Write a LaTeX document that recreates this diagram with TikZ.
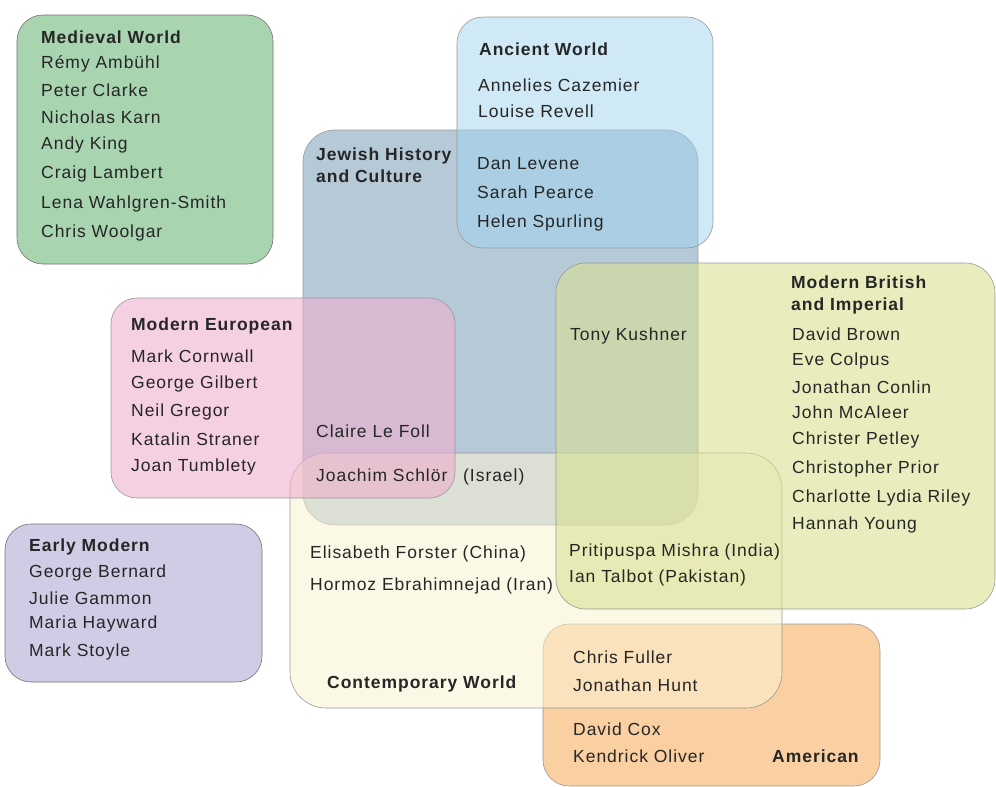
\documentclass[tikz,border=0pt]{standalone}
\usepackage{fontspec}
\setmainfont[LetterSpace=5.5]{Liberation Sans}
\begin{document}
\begin{tikzpicture}[x=1pt,y=-1pt,
  box/.style={draw=black!40, line width=0.6pt, rounded corners=26pt},
  nm/.style={anchor=base west, inner sep=0pt, font=\fontsize{17.5}{19}\selectfont, text=black!85},
  ttl/.style={nm, font=\fontsize{17.5}{22}\selectfont\bfseries, align=left}]
\definecolor{medc}{RGB}{168,212,176}
\definecolor{earc}{RGB}{208,204,230}
\definecolor{jewc}{RGB}{182,201,215}
\definecolor{ancc}{RGB}{159,211,239}
\definecolor{amec}{RGB}{250,208,162}
\definecolor{conc}{RGB}{250,242,210}
\definecolor{eurc}{RGB}{238,175,207}
\definecolor{bric}{RGB}{217,224,143}
\useasboundingbox (0,0) rectangle (996,787);
% boxes
\path[box, fill=medc, draw=black!55] (17,15) rectangle (273,264);
\path[box, fill=earc, draw=black!55] (5,524) rectangle (262,682);
\path[box, fill=jewc, rounded corners=32pt] (303,130) rectangle (698,525);
\path[box, fill=ancc, fill opacity=0.5] (457,17) rectangle (713,248);
\path[box, fill=amec] (543,624) rectangle (880,786);
\path[box, fill=conc, fill opacity=0.55, rounded corners=36pt] (290,453) rectangle (782,708);
\path[box, fill=eurc, fill opacity=0.6] (111,298) rectangle (455,498);
\path[box, fill=bric, fill opacity=0.58, rounded corners=30pt] (556,263) rectangle (995,609);
% Medieval
\node[ttl] (medt) at (41,43) {Medieval World};
\node[nm] (m1) at (41,68) {Rémy Ambühl};
\node[nm] (m2) at (41,96) {Peter Clarke};
\node[nm] (m3) at (41,123) {Nicholas Karn};
\node[nm] (m4) at (41,149) {Andy King};
\node[nm] (m5) at (41,178) {Craig Lambert};
\node[nm] (m6) at (41,208) {Lena Wahlgren-Smith};
\node[nm] (m7) at (41,237) {Chris Woolgar};
% Ancient
\node[ttl] (anct) at (479,55) {Ancient World};
\node[nm] (a1) at (478,91) {Annelies Cazemier};
\node[nm] (a2) at (478,117) {Louise Revell};
% Jewish
\node[ttl, anchor=north west] (jewt) at (316,148) {Jewish History\\and Culture};
\node[nm] (j1) at (477,169) {Dan Levene};
\node[nm] (j2) at (477,198) {Sarah Pearce};
\node[nm] (j3) at (477,227) {Helen Spurling};
% Modern British
\node[ttl, anchor=north west] (brit) at (791,276) {Modern British\\and Imperial};
\node[nm] (b1) at (792,340) {David Brown};
\node[nm] (b2) at (792,365) {Eve Colpus};
\node[nm] (b3) at (792,393) {Jonathan Conlin};
\node[nm] (b4) at (792,418) {John McAleer};
\node[nm] (b5) at (792,444) {Christer Petley};
\node[nm] (b6) at (792,473) {Christopher Prior};
\node[nm] (b7) at (792,502) {Charlotte Lydia Riley};
\node[nm] (b8) at (792,529) {Hannah Young};
\node[nm] (tk) at (570,340) {Tony Kushner};
% Modern European
\node[ttl] (eurt) at (131,330) {Modern European};
\node[nm] (e1) at (131,362) {Mark Cornwall};
\node[nm] (e2) at (131,388) {George Gilbert};
\node[nm] (e3) at (131,416) {Neil Gregor};
\node[nm] (e4) at (131,445) {Katalin Straner};
\node[nm] (e5) at (131,471) {Joan Tumblety};
\node[nm] (clf) at (316,437) {Claire Le Foll};
\node[nm] (js) at (316,481) {Joachim Schlör};
\node[nm] (isr) at (463,481) {(Israel)};
% Early Modern
\node[ttl] (eart) at (29,551) {Early Modern};
\node[nm] (r1) at (29,577) {George Bernard};
\node[nm] (r2) at (29,604) {Julie Gammon};
\node[nm] (r3) at (29,628) {Maria Hayward};
\node[nm] (r4) at (29,656) {Mark Stoyle};
% Contemporary
\node[nm] (c1) at (310,558) {Elisabeth Forster (China)};
\node[nm] (c2) at (310,590) {Hormoz Ebrahimnejad (Iran)};
\node[nm] (c3) at (569,556) {Pritipuspa Mishra (India)};
\node[nm] (c4) at (569,582) {Ian Talbot (Pakistan)};
\node[ttl] (cont) at (327,688) {Contemporary World};
% American
\node[nm] (u1) at (573,663) {Chris Fuller};
\node[nm] (u2) at (573,691) {Jonathan Hunt};
\node[nm] (u3) at (573,735) {David Cox};
\node[nm] (u4) at (573,762) {Kendrick Oliver};
\node[ttl] (amet) at (772,762) {American};
\end{tikzpicture}
\end{document}
